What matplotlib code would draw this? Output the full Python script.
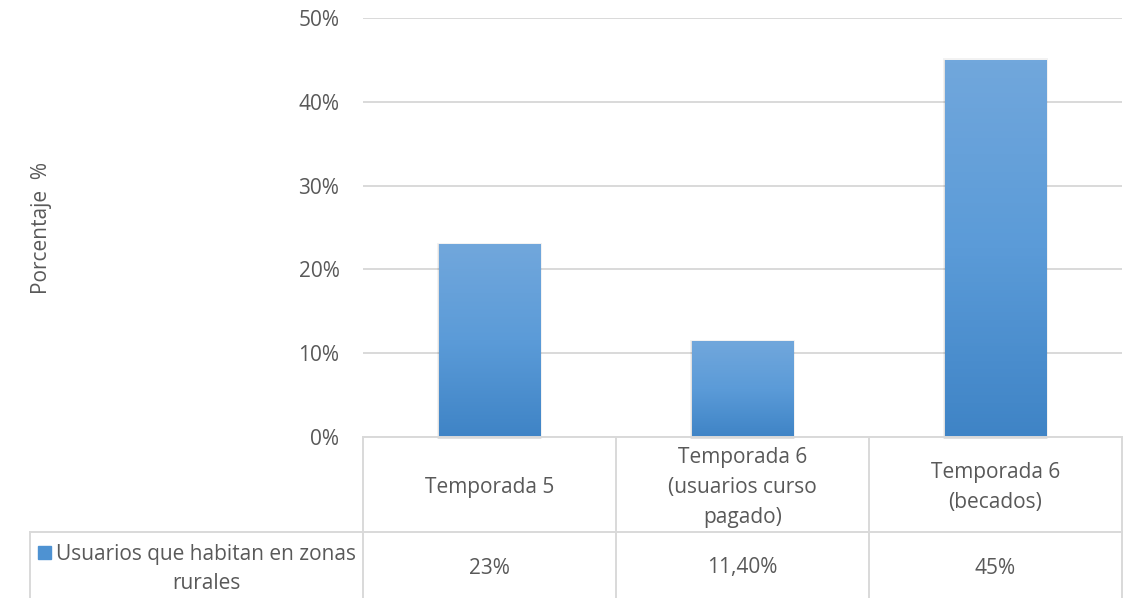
import matplotlib.pyplot as plt
import numpy as np
from matplotlib.colors import LinearSegmentedColormap
from matplotlib.patches import Rectangle

categories = ["Temporada 5", "Temporada 6\n(usuarios curso\npagado)", "Temporada 6\n(becados)"]
values = [0.23, 0.114, 0.45]
value_labels = ["23%", "11,40%", "45%"]
series_name = "Usuarios que habitan en zonas\nrurales"
yticks = [0, 0.1, 0.2, 0.3, 0.4, 0.5]

TEXT = "#595959"
GRID = "#D9D9D9"
FS = 15
plt.rcParams["font.family"] = ["Open Sans", "DejaVu Sans"]

fig = plt.figure(figsize=(11.35, 5.98), dpi=100)
ax = fig.add_axes([363 / 1135, 161 / 598, 759 / 1135, 419 / 598])

x = np.arange(len(categories))
bars = ax.bar(x, values, width=0.40, color="none", zorder=3)

# vertical gradient fill clipped to each bar
grad = LinearSegmentedColormap.from_list("g", ["#3F84C6", "#5B9BD8", "#71A7DC"])
for b in bars:
    x0, w, h = b.get_x(), b.get_width(), b.get_height()
    for k, a in [(0.008, 0.05), (0.004, 0.07)]:
        ax.add_patch(Rectangle((x0 - k, -0.002), w + 2 * k, h + k * 0.5, color="#000000",
                               alpha=a, zorder=2, clip_on=False, linewidth=0))
    im = ax.imshow(np.linspace(0, 1, 100).reshape(-1, 1), cmap=grad, aspect="auto",
                   extent=(x0, x0 + w, 0, h), origin="lower", zorder=3)
    im.set_clip_path(b)

ax.set_xlim(-0.5, len(categories) - 0.5)
ax.set_ylim(0, 0.5)
ax.set_yticks(yticks)
ax.set_yticklabels([f"{int(round(t * 100))}%" for t in yticks])
ax.yaxis.grid(True, color=GRID, linewidth=1.4, zorder=0)
ax.set_axisbelow(True)
ax.tick_params(axis="y", length=0, pad=17, labelsize=FS, labelcolor=TEXT)
ax.tick_params(axis="x", bottom=False, labelbottom=False)
for s in ["left", "right", "top"]:
    ax.spines[s].set_visible(False)
ax.spines["bottom"].set_color(GRID)
ax.spines["bottom"].set_linewidth(1.4)
ax.spines["bottom"].set_zorder(4)

ax.set_ylabel("Porcentaje  %", fontsize=FS, color=TEXT)
ax.yaxis.set_label_coords(-0.41, 0.5)

# data table under the plot (x in data units, y in axes fraction)
tr = ax.get_xaxis_transform()
row1 = -95 / 419
row2 = -161 / 419
left = -0.5 - 333 / 253
lk = dict(color=GRID, linewidth=1.4, transform=tr, clip_on=False)
ax.plot([left, 2.5], [row1, row1], **lk)
ax.plot([left, left], [row1, row2], **lk)
for xv in [-0.5, 0.5, 1.5, 2.5]:
    ax.plot([xv, xv], [0, row2], **lk)

px = 1 / 419
for i, (cat, lab) in enumerate(zip(categories, value_labels)):
    ax.text(i, row1 / 2 - 3 * px, cat, transform=tr, ha="center", va="center",
            fontsize=FS, color=TEXT, linespacing=1.55, clip_on=False)
    ax.text(i, (row1 + row2) / 2 - 3 * px, lab, transform=tr, ha="center", va="center",
            fontsize=FS, color=TEXT, clip_on=False)

lx = -0.5 - 157 / 253
ax.text(lx, (row1 + row2) / 2 - 4 * px, series_name, transform=tr, ha="center", va="center",
        fontsize=FS, color=TEXT, linespacing=1.5, clip_on=False)
ax.add_patch(Rectangle((-0.5 - 325 / 253, row1 - 27 * px), 13 / 253, 13 * px,
                       transform=tr, color="#4E92D2", clip_on=False))

fig.savefig("out.png", dpi=100)
